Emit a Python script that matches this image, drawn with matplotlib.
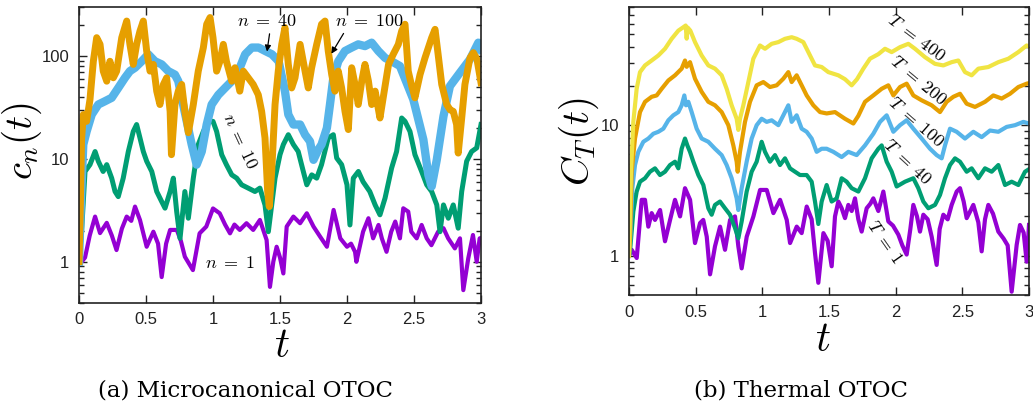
import numpy as np
import matplotlib
matplotlib.use('Agg')
import matplotlib.pyplot as plt
from matplotlib.ticker import LogLocator, NullFormatter, FixedLocator, FuncFormatter

plt.rcParams['mathtext.fontset'] = 'cm'
plt.rcParams['font.family'] = 'Liberation Sans'

# ---- (a) microcanonical OTOC, (t, c_n) pairs ----
n1 = [(0, 1.0), (0.02, 1.0), (0.045, 1.1), (0.08, 1.8), (0.12, 2.75), (0.157, 1.9), (0.207, 2.39),
      (0.245, 1.8), (0.28, 1.3), (0.32, 2.1), (0.356, 2.75), (0.39, 2.5), (0.418, 3.44), (0.455, 2.55),
      (0.505, 1.4), (0.555, 1.96), (0.59, 1.5), (0.617, 0.71), (0.65, 1.5), (0.68, 2.04), (0.73, 2.04),
      (0.76, 1.6), (0.79, 1.12), (0.85, 0.83), (0.9, 1.89), (0.95, 2.2), (1.0, 3.3), (1.05, 2.96),
      (1.09, 2.3), (1.127, 1.89), (1.16, 2.3), (1.2, 2.04), (1.25, 2.37), (1.3, 2.04), (1.35, 2.55),
      (1.4, 1.63), (1.425, 0.57), (1.45, 1.0), (1.475, 1.4), (1.5, 1.1), (1.525, 0.77), (1.55, 2.2),
      (1.6, 2.75), (1.65, 2.37), (1.7, 2.96), (1.75, 2.2), (1.8, 1.75), (1.85, 1.4), (1.9, 3.19),
      (1.95, 1.69), (2.0, 1.4), (2.03, 1.5), (2.06, 1.25), (2.07, 1.0), (2.12, 1.96), (2.16, 2.65),
      (2.195, 1.69), (2.235, 2.28), (2.26, 1.69), (2.295, 1.25), (2.33, 1.96), (2.36, 2.46), (2.395, 1.69),
      (2.42, 3.31), (2.457, 3.07), (2.48, 1.96), (2.52, 1.69), (2.557, 2.28), (2.595, 1.69), (2.63, 1.45),
      (2.68, 1.96), (2.72, 2.12), (2.755, 1.69), (2.805, 1.35), (2.843, 1.69), (2.868, 0.53), (2.905, 1.08),
      (2.94, 1.82), (2.968, 1.0), (2.99, 1.69), (3.0, 1.7)]

n10 = [(0, 1.0), (0.02, 2.04), (0.045, 7.55), (0.082, 8.8), (0.12, 11.8), (0.144, 9.5), (0.18, 7.55),
       (0.207, 8.8), (0.244, 6.5), (0.269, 4.82), (0.293, 4.3), (0.33, 6.5), (0.368, 11.8), (0.405, 18.5),
       (0.43, 21.6), (0.455, 16), (0.48, 11.8), (0.505, 9.5), (0.543, 7.55), (0.58, 4.82), (0.617, 3.85),
       (0.642, 3.32), (0.68, 4.82), (0.704, 6.5), (0.729, 3.07), (0.754, 1.69), (0.79, 4.82), (0.816, 2.65),
       (0.853, 6.5), (0.89, 13.8), (0.928, 18.5), (0.965, 23.2), (1.0, 23.2), (1.027, 18.5), (1.065, 11),
       (1.1, 8.8), (1.14, 7.0), (1.177, 6.5), (1.214, 5.6), (1.263, 5.2), (1.313, 4.82), (1.35, 5.2),
       (1.388, 3.57), (1.413, 1.96), (1.438, 3.57), (1.463, 6.5), (1.5, 11), (1.525, 13.8), (1.562, 17.2),
       (1.6, 13.8), (1.636, 11.8), (1.674, 7.55), (1.7, 5.6), (1.737, 7.0), (1.774, 6.5), (1.81, 8.8),
       (1.86, 16), (1.898, 17.2), (1.923, 10.2), (1.96, 8.8), (2.0, 5.6), (2.022, 2.28), (2.047, 6.5),
       (2.085, 7.55), (2.12, 6.0), (2.17, 4.82), (2.21, 3.57), (2.246, 2.86), (2.284, 4.16), (2.333, 8.15),
       (2.37, 11.8), (2.408, 25), (2.433, 23.2), (2.47, 18.5), (2.507, 11), (2.557, 7.55), (2.595, 5.6),
       (2.632, 4.82), (2.67, 3.57), (2.694, 1.96), (2.72, 3.57), (2.756, 2.65), (2.793, 3.57), (2.83, 2.12),
       (2.856, 4.82), (2.893, 9.5), (2.93, 11.8), (2.968, 12.8), (3.0, 21.6)]

n40 = [(0, 1.0), (0.015, 4), (0.032, 13.8), (0.057, 18.5), (0.095, 27), (0.144, 33.8), (0.194, 36.4),
       (0.244, 39.3), (0.293, 49), (0.343, 61.5), (0.38, 71.4), (0.418, 77), (0.468, 89), (0.517, 104),
       (0.567, 89), (0.617, 83), (0.666, 71.4), (0.716, 66), (0.741, 57), (0.766, 39.3), (0.804, 23.2),
       (0.841, 13.8), (0.878, 8.8), (0.916, 11.8), (0.953, 21.6), (0.99, 33.8), (1.04, 42), (1.09, 49),
       (1.14, 57), (1.19, 71.4), (1.24, 104), (1.29, 121), (1.34, 121), (1.39, 112), (1.44, 104),
       (1.49, 89), (1.537, 45.6), (1.562, 27), (1.6, 21.6), (1.65, 21.6), (1.687, 17.2), (1.724, 14.8),
       (1.75, 9.8), (1.786, 12.3), (1.81, 13.8), (1.85, 20), (1.873, 33.8), (1.898, 61.5), (1.935, 89),
       (1.985, 112), (2.035, 121), (2.084, 130), (2.134, 125), (2.184, 135), (2.234, 112), (2.284, 96),
       (2.333, 89), (2.395, 80), (2.445, 55), (2.495, 37.8), (2.533, 24), (2.57, 15.4), (2.607, 7.0),
       (2.632, 5.4), (2.67, 9.8), (2.72, 26), (2.768, 51), (2.843, 69), (2.918, 93), (2.98, 135), (3.0, 116)]

n100 = [(0, 1.0), (0.011, 4), (0.019, 15.4), (0.032, 27), (0.057, 23.2), (0.082, 37.8), (0.107, 89),
        (0.132, 151), (0.157, 130), (0.181, 71.4), (0.207, 57), (0.231, 89), (0.256, 61.5), (0.281, 71.4),
        (0.319, 151), (0.356, 219), (0.38, 130), (0.405, 83), (0.43, 130), (0.455, 175), (0.48, 219),
        (0.505, 112), (0.53, 71.4), (0.555, 83), (0.58, 45.6), (0.604, 33.8), (0.63, 53), (0.654, 61.5),
        (0.68, 29), (0.69, 11), (0.716, 33.8), (0.741, 45.6), (0.766, 53), (0.79, 29), (0.816, 18),
        (0.853, 33.8), (0.89, 71.4), (0.928, 121), (0.953, 204), (0.978, 237), (1.0, 151), (1.027, 71.4),
        (1.052, 89), (1.077, 130), (1.1, 89), (1.14, 57), (1.164, 77), (1.2, 45.6), (1.226, 71.4),
        (1.263, 61.5), (1.3, 53), (1.338, 42), (1.363, 29), (1.388, 16), (1.408, 4.8), (1.42, 3.44),
        (1.438, 7.55), (1.463, 33.8), (1.487, 71.4), (1.513, 130), (1.537, 189), (1.562, 83), (1.587, 49),
        (1.612, 61.5), (1.65, 130), (1.687, 71.4), (1.711, 49), (1.736, 77), (1.774, 130), (1.81, 204),
        (1.836, 219), (1.86, 112), (1.886, 66), (1.91, 45.6), (1.935, 71.4), (1.96, 49), (1.985, 29),
        (2.01, 19.3), (2.035, 77), (2.06, 53), (2.084, 33.8), (2.11, 57), (2.134, 83), (2.16, 57),
        (2.184, 33.8), (2.21, 45.6), (2.246, 25), (2.27, 39.3), (2.31, 83), (2.345, 104), (2.383, 130),
        (2.408, 175), (2.433, 204), (2.457, 71.4), (2.48, 53), (2.507, 39.3), (2.545, 66), (2.582, 96),
        (2.632, 151), (2.657, 182), (2.68, 104), (2.707, 53), (2.744, 33.8), (2.77, 30), (2.793, 29),
        (2.818, 21.6), (2.83, 11.4), (2.856, 25), (2.88, 53), (2.918, 96), (2.943, 108), (2.97, 93), (3.0, 55)]

# ---- (b) thermal OTOC, (t, C_T) pairs ----
T1 = [(0, 1.0), (0.02, 1.11), (0.058, 0.96), (0.095, 2.68), (0.12, 2.68), (0.145, 1.67), (0.17, 2.12),
      (0.195, 1.88), (0.233, 2.24), (0.27, 1.29), (0.308, 1.88), (0.345, 2.68), (0.383, 2.0), (0.42, 3.29),
      (0.458, 2.68), (0.495, 1.25), (0.533, 1.78), (0.557, 1.88), (0.583, 1.4), (0.608, 0.72), (0.645, 1.18),
      (0.683, 1.67), (0.72, 1.11), (0.758, 1.88), (0.795, 2.0), (0.82, 1.18), (0.845, 0.8), (0.883, 1.4),
      (0.933, 2.0), (0.983, 3.19), (1.033, 3.19), (1.083, 2.12), (1.133, 2.68), (1.183, 1.88), (1.208, 1.25),
      (1.258, 1.67), (1.295, 1.49), (1.333, 2.38), (1.37, 1.9), (1.395, 1.05), (1.42, 0.62), (1.458, 1.49),
      (1.49, 1.3), (1.52, 0.83), (1.545, 2.0), (1.57, 2.6), (1.595, 2.31), (1.62, 1.94), (1.645, 2.45),
      (1.67, 2.2), (1.695, 2.75), (1.72, 1.9), (1.745, 1.53), (1.7825, 2.31), (1.81, 2.5), (1.8325, 2.75),
      (1.87, 2.2), (1.9075, 3.1), (1.945, 1.83), (1.98, 1.7), (2.02, 1.45), (2.05, 1.2), (2.0825, 1.02),
      (2.11, 1.6), (2.1325, 2.45), (2.16, 2.0), (2.1825, 1.53), (2.2075, 2.06), (2.24, 1.9), (2.27, 1.4),
      (2.3075, 0.85), (2.33, 1.6), (2.3575, 2.06), (2.39, 1.9), (2.42, 2.45), (2.4575, 3.1), (2.4825, 3.29),
      (2.51, 2.6), (2.5325, 1.94), (2.56, 2.2), (2.5825, 2.45), (2.62, 1.8), (2.645, 1.08), (2.67, 1.9),
      (2.695, 2.45), (2.73, 2.1), (2.77, 1.53), (2.81, 1.35), (2.84, 1.2), (2.87, 0.53), (2.9075, 1.21),
      (2.9325, 1.72), (2.96, 1.5), (2.9825, 0.9), (3.0, 1.72)]

T40 = [(0, 1.0), (0.0075, 1.08), (0.0325, 2.18), (0.0575, 3.1), (0.0825, 3.69), (0.12, 3.92), (0.1575, 4.4),
       (0.195, 4.67), (0.2325, 4.15), (0.27, 4.4), (0.3075, 4.95), (0.345, 5.25), (0.37, 4.67), (0.395, 6.6),
       (0.42, 7.9), (0.4375, 7.0), (0.4575, 6.25), (0.4825, 5.25), (0.52, 4.15), (0.5575, 3.48), (0.595, 2.31),
       (0.62, 2.06), (0.645, 2.45), (0.6825, 2.6), (0.72, 2.31), (0.7575, 2.06), (0.795, 1.63), (0.82, 1.36),
       (0.845, 1.83), (0.8825, 3.1), (0.92, 4.4), (0.9575, 5.25), (0.995, 7.46), (1.02, 6.25), (1.0575, 5.25),
       (1.095, 5.9), (1.1325, 4.95), (1.17, 5.57), (1.2075, 4.67), (1.245, 4.4), (1.2825, 4.15), (1.3325, 4.15),
       (1.37, 3.69), (1.395, 2.6), (1.42, 1.75), (1.445, 2.6), (1.4825, 3.48), (1.52, 2.6), (1.5575, 2.75),
       (1.595, 3.92), (1.6325, 3.69), (1.67, 3.29), (1.72, 3.1), (1.77, 3.92), (1.82, 5.57), (1.87, 6.6),
       (1.895, 7.0), (1.9325, 5.25), (1.97, 4.4), (2.0075, 3.39), (2.07, 3.69), (2.1325, 3.92), (2.17, 3.29),
       (2.2075, 2.6), (2.245, 2.31), (2.295, 2.45), (2.3325, 2.92), (2.37, 3.92), (2.4075, 4.95), (2.445, 5.57),
       (2.4825, 5.25), (2.5325, 4.4), (2.57, 4.67), (2.62, 3.92), (2.67, 4.67), (2.72, 4.4), (2.77, 4.95),
       (2.82, 3.48), (2.87, 3.69), (2.92, 3.48), (2.97, 4.4), (3.0, 4.6)]

T100 = [(0, 1.0), (0.0075, 1.21), (0.025, 3.29), (0.045, 4.95), (0.07, 6.25), (0.1075, 7.46), (0.145, 7.9),
        (0.1825, 8.6), (0.22, 8.9), (0.2575, 9.4), (0.295, 10.9), (0.3325, 11.9), (0.37, 12.6), (0.395, 14.2),
        (0.415, 16.9), (0.4275, 14.2), (0.445, 15.1), (0.47, 12.6), (0.5075, 9.4), (0.545, 7.9), (0.595, 7.46),
        (0.645, 6.6), (0.695, 5.9), (0.7325, 4.95), (0.77, 3.92), (0.8075, 2.75), (0.82, 2.24), (0.845, 3.29),
        (0.8825, 5.25), (0.92, 7.9), (0.9575, 10), (0.995, 11.2), (1.0325, 10.6), (1.07, 10.9), (1.12, 10),
        (1.1575, 11.9), (1.195, 14.2), (1.22, 10.6), (1.2575, 11.9), (1.295, 9.4), (1.3325, 8.9), (1.37, 7.9),
        (1.4075, 6.25), (1.445, 6.6), (1.4825, 6.6), (1.5325, 6.25), (1.595, 5.7), (1.645, 6.25), (1.7075, 5.9),
        (1.77, 7.0), (1.8325, 8.6), (1.8825, 10.6), (1.9325, 11.9), (1.9825, 8.9), (2.0325, 10), (2.0825, 10.9),
        (2.1325, 9.4), (2.195, 7.9), (2.2575, 6.6), (2.3075, 5.9), (2.345, 5.57), (2.37, 7.0), (2.4075, 9.4),
        (2.4575, 8.9), (2.52, 7.9), (2.5825, 8.9), (2.645, 8.1), (2.7075, 9.1), (2.77, 8.9), (2.8325, 9.7),
        (2.895, 10), (2.9575, 10.6), (3.0, 10.3)]

T200 = [(0, 1.0), (0.0075, 1.36), (0.02, 4.4), (0.045, 7.9), (0.0825, 12.6), (0.12, 15.1), (0.17, 16.5),
        (0.2075, 16.9), (0.245, 19), (0.295, 22), (0.345, 24.1), (0.395, 27.1), (0.42, 31.3), (0.4325, 28),
        (0.4575, 30.4), (0.495, 22.7), (0.545, 18), (0.595, 15.1), (0.645, 14.2), (0.695, 12.6), (0.745, 10),
        (0.7825, 7.0), (0.8075, 5.25), (0.815, 4.4), (0.8325, 6.25), (0.87, 10.6), (0.9075, 15.1), (0.9575, 20.2),
        (1.0075, 21.4), (1.0575, 19.6), (1.1075, 20.2), (1.1575, 22.7), (1.195, 25.5), (1.22, 21.4), (1.2575, 24.1),
        (1.295, 20.2), (1.3325, 16.9), (1.3825, 14.2), (1.4325, 12.6), (1.4825, 12.3), (1.545, 12.6), (1.62, 11.2),
        (1.6825, 10.3), (1.72, 11.8), (1.77, 15.1), (1.8325, 16.9), (1.895, 19), (1.945, 20.2), (1.9825, 16.9),
        (2.0325, 19.6), (2.0825, 20.8), (2.1325, 16.9), (2.195, 15.5), (2.27, 14.2), (2.3325, 12.6), (2.3825, 15.1),
        (2.4325, 16.5), (2.4825, 17.4), (2.5325, 14.6), (2.595, 13.8), (2.67, 15.1), (2.7325, 16.9), (2.795, 16),
        (2.8575, 17.4), (2.92, 19.6), (2.9825, 20.8), (3.0, 21)]

T400 = [(0, 1.0), (0.015, 4.4), (0.0325, 10.6), (0.0575, 19), (0.0825, 25.5), (0.12, 28.7), (0.17, 31.3),
        (0.22, 34.2), (0.27, 38.5), (0.32, 45.9), (0.37, 53), (0.4075, 56.3), (0.425, 58), (0.4325, 46),
        (0.44, 56), (0.46, 53), (0.495, 43.3), (0.545, 34.2), (0.595, 28.7), (0.645, 27.1), (0.695, 24.1),
        (0.7325, 19), (0.77, 14.2), (0.8075, 11.2), (0.82, 9.2), (0.8325, 11.2), (0.8575, 14.2), (0.895, 21.4),
        (0.9325, 32.3), (0.9825, 40.8), (1.02, 38.5), (1.07, 42), (1.12, 43.3), (1.17, 45.9), (1.22, 47.2),
        (1.2575, 45.9), (1.3075, 43.3), (1.345, 36.3), (1.395, 28.7), (1.445, 27.9), (1.495, 25.5), (1.57, 24.1),
        (1.62, 22.5), (1.67, 20.2), (1.71, 22.5), (1.7575, 27.1), (1.8075, 32.3), (1.87, 35), (1.92, 38.5),
        (1.97, 36.3), (2.0325, 39.6), (2.095, 42), (2.145, 38.5), (2.22, 33.2), (2.295, 29.5), (2.3575, 28.7),
        (2.42, 30.4), (2.47, 31.3), (2.52, 25.5), (2.57, 24.1), (2.62, 27.1), (2.695, 27.9), (2.77, 30.4),
        (2.845, 32.3), (2.92, 36.3), (2.9825, 40.8), (3.0, 40)]

xticks = [0, 0.5, 1, 1.5, 2, 2.5, 3]
c_purple, c_green, c_blue, c_orange, c_yellow = '#9400d3', '#009e73', '#56b4e9', '#e69f00', '#f0e442'


def split(pts):
    a = np.array(pts)
    return a[:, 0], a[:, 1]


def style(ax, ylim, majors):
    ax.set_yscale('log')
    ax.set_xlim(0, 3)
    ax.set_ylim(*ylim)
    ax.set_xticks(xticks)
    ax.xaxis.set_major_formatter(FuncFormatter(lambda v, p: '%g' % v))
    ax.yaxis.set_major_locator(FixedLocator(majors))
    ax.yaxis.set_major_formatter(FuncFormatter(lambda v, p: '%g' % v))
    ax.yaxis.set_minor_locator(LogLocator(base=10, subs=np.arange(2, 10), numticks=20))
    ax.yaxis.set_minor_formatter(NullFormatter())
    ax.tick_params(which='both', direction='in', top=True, right=True, width=1, colors='#222222')
    ax.tick_params(which='major', length=6, pad=7, labelsize=12)
    ax.tick_params(which='minor', length=3.5)
    for s in ax.spines.values():
        s.set_linewidth(1.2)
        s.set_color('#222222')


fig = plt.figure(figsize=(10.33, 4.13), dpi=100)
ax1 = fig.add_axes([79 / 1033, 1 - 302.7 / 413, 402 / 1033, 295.7 / 413])
ax2 = fig.add_axes([629 / 1033, 1 - 295 / 413, 400 / 1033, 287.7 / 413])

# panel (a)
for pts, col, lw in [(n1, c_purple, 3.0), (n10, c_green, 3.6), (n40, c_blue, 6.0), (n100, c_orange, 5.0)]:
    t, c = split(pts)
    ax1.plot(t, c, color=col, lw=lw, solid_joinstyle='round')
style(ax1, (0.4, 300), [1, 10, 100])

lab = dict(fontsize=13, ha='center', va='center')
ax1.text(1.40, 215, r'$n\;=\;40$', **lab)
ax1.annotate('', xy=(1.40, 104), xytext=(1.425, 175),
             arrowprops=dict(arrowstyle='-|>', color='black', lw=0.9, mutation_scale=9))
ax1.text(2.164, 219, r'$n\;=\;100$', **lab)
ax1.annotate('', xy=(1.873, 100), xytext=(1.985, 175),
             arrowprops=dict(arrowstyle='-|>', color='black', lw=0.9, mutation_scale=9))
ax1.text(1.20, 15, r'$n\;=\;10$', rotation=-65, **lab)
ax1.text(1.127, 0.97, r'$n\;=\;1$', **lab)

# panel (b)
for pts, col in [(T1, c_purple), (T40, c_green), (T100, c_blue), (T200, c_orange), (T400, c_yellow)]:
    t, c = split(pts)
    ax2.plot(t, c, color=col, lw=3.0, solid_joinstyle='round')
style(ax2, (0.5, 80), [1, 10])

ax2.text(2.153, 46, r'$T\;=\;400$', rotation=-37, **lab)
ax2.text(2.168, 22, r'$T\;=\;200$', rotation=-40, **lab)
ax2.text(2.153, 10.5, r'$T\;=\;100$', rotation=-41, **lab)
ax2.text(2.085, 5.2, r'$T\;=\;40$', rotation=-43, **lab)
ax2.text(1.913, 1.26, r'$T\;=\;1$', rotation=-55, **lab)

# axis labels and captions
fig.text(22 / 1033, 1 - 141 / 413, '$c_n(t)$', fontsize=28, rotation=90, ha='center', va='center')
fig.text(579 / 1033, 1 - 142 / 413, '$C_T(t)$', fontsize=28, rotation=90, ha='center', va='center')
fig.text(281.7 / 1033, 1 - 346 / 413, '$t$', fontsize=30, ha='center', va='center')
fig.text(823 / 1033, 1 - 340 / 413, '$t$', fontsize=30, ha='center', va='center')
fig.text(245 / 1033, 1 - 390 / 413, '(a) Microcanonical OTOC', fontsize=16.5, family='DejaVu Serif',
         ha='center', va='center')
fig.text(801 / 1033, 1 - 390 / 413, '(b) Thermal OTOC', fontsize=16.5, family='DejaVu Serif',
         ha='center', va='center')

fig.savefig('out.png', dpi=100)
